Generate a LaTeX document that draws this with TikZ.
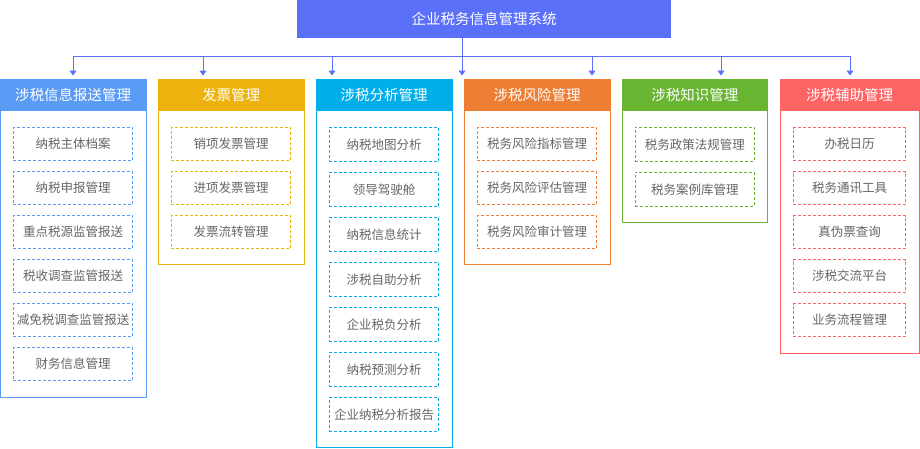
\documentclass[tikz,border=0pt]{standalone}
\usepackage{fontspec}
\setmainfont{Noto Sans CJK SC}
\usetikzlibrary{arrows.meta}
\definecolor{ctop}{HTML}{5B70F9}
\definecolor{cblue}{HTML}{5A9BF6}
\definecolor{cyel}{HTML}{EDB20E}
\definecolor{ccyan}{HTML}{00AEEA}
\definecolor{corange}{HTML}{EE7E33}
\definecolor{cgreen}{HTML}{67B530}
\definecolor{cred}{HTML}{FF6465}
\definecolor{cgray}{HTML}{666666}
\newcommand\hfont{\fontsize{14.5}{16}\selectfont}
\newcommand\ifont{\fontsize{12.5}{14}\selectfont}
\tikzset{
  hdr/.style={fill=#1, text=white, minimum height=32pt, inner sep=0pt, anchor=north, font=\hfont},
  colbody/.style={draw=#1, line width=1pt, fill=white, inner sep=0pt, anchor=north},
  item/.style={draw=#1, line width=0.9pt, dash pattern=on 3pt off 2pt, text=cgray, inner sep=0pt, font=\ifont},
  busline/.style={draw=ctop, line width=1pt},
  arr/.style={ctop, line width=1pt, -{Triangle[width=7pt,length=5pt]}},
}
\begin{document}
\begin{tikzpicture}[x=1pt,y=-1pt]
\useasboundingbox (0,0) rectangle (920,448);
\node[fill=ctop, text=white, minimum width=374pt, minimum height=38pt, inner sep=0pt, font=\hfont] (top) at (484,19) {企业税务信息管理系统};

% bus
\foreach \x [count=\i] in {73,203,332,462,592,721,850} {
  \coordinate (bus\i) at (\x,56);
  \coordinate (end\i) at (\x,75.5);
  \draw[arr] (bus\i) -- (end\i);
}
\draw[busline] (bus1) -- (bus7);
\draw[busline] (top.south -| bus4) -- (bus4);

% column 1
\node[colbody=cblue, minimum width=146pt, minimum height=318.3pt] (b1) at (73,79) {};
\node[hdr=cblue, minimum width=146pt] (h1) at (73,79) {涉税信息报送管理};
\foreach \t [count=\i] in {纳税主体档案,纳税申报管理,重点税源监管报送,税收调查监管报送,减免税调查监管报送,财务信息管理}
  \node[item=cblue, minimum width=119.4pt, minimum height=33pt] (c1i\i) at (73,{100+44*\i}) {\t};

% column 2
\node[colbody=cyel, minimum width=146pt, minimum height=185.3pt] (b2) at (231,79) {};
\node[hdr=cyel, minimum width=146pt] (h2) at (231,79) {发票管理};
\foreach \t [count=\i] in {销项发票管理,进项发票管理,发票流转管理}
  \node[item=cyel, minimum width=119.4pt, minimum height=33pt] (c2i\i) at (231,{100+44*\i}) {\t};

% column 3
\node[colbody=ccyan, minimum width=136pt, minimum height=368pt] (b3) at (384,79) {};
\node[hdr=ccyan, minimum width=136pt] (h3) at (384,79) {涉税分析管理};
\foreach \t [count=\i] in {纳税地图分析,领导驾驶舱,纳税信息统计,涉税自助分析,企业税负分析,纳税预测分析,企业纳税分析报告}
  \node[item=ccyan, minimum width=109.4pt, minimum height=34pt] (c3i\i) at (384,{99.3+45*\i}) {\t};

% column 4
\node[colbody=corange, minimum width=146pt, minimum height=185.3pt] (b4) at (537,79) {};
\node[hdr=corange, minimum width=146pt] (h4) at (537,79) {涉税风险管理};
\foreach \t [count=\i] in {税务风险指标管理,税务风险评估管理,税务风险审计管理}
  \node[item=corange, minimum width=119.4pt, minimum height=33pt] (c4i\i) at (537,{100+44*\i}) {\t};

% column 5
\node[colbody=cgreen, minimum width=145pt, minimum height=143.3pt] (b5) at (694.8,79) {};
\node[hdr=cgreen, minimum width=145pt] (h5) at (694.8,79) {涉税知识管理};
\foreach \t [count=\i] in {税务政策法规管理,税务案例库管理}
  \node[item=cgreen, minimum width=119pt, minimum height=34pt] (c5i\i) at (694.8,{99.3+45*\i}) {\t};

% column 6
\node[colbody=cred, minimum width=139pt, minimum height=274.3pt] (b6) at (849.5,79) {};
\node[hdr=cred, minimum width=139pt] (h6) at (849.5,79) {涉税辅助管理};
\foreach \t [count=\i] in {办税日历,税务通讯工具,真伪票查询,涉税交流平台,业务流程管理}
  \node[item=cred, minimum width=112.4pt, minimum height=33pt] (c6i\i) at (849.5,{100+44*\i}) {\t};
\end{tikzpicture}
\end{document}
